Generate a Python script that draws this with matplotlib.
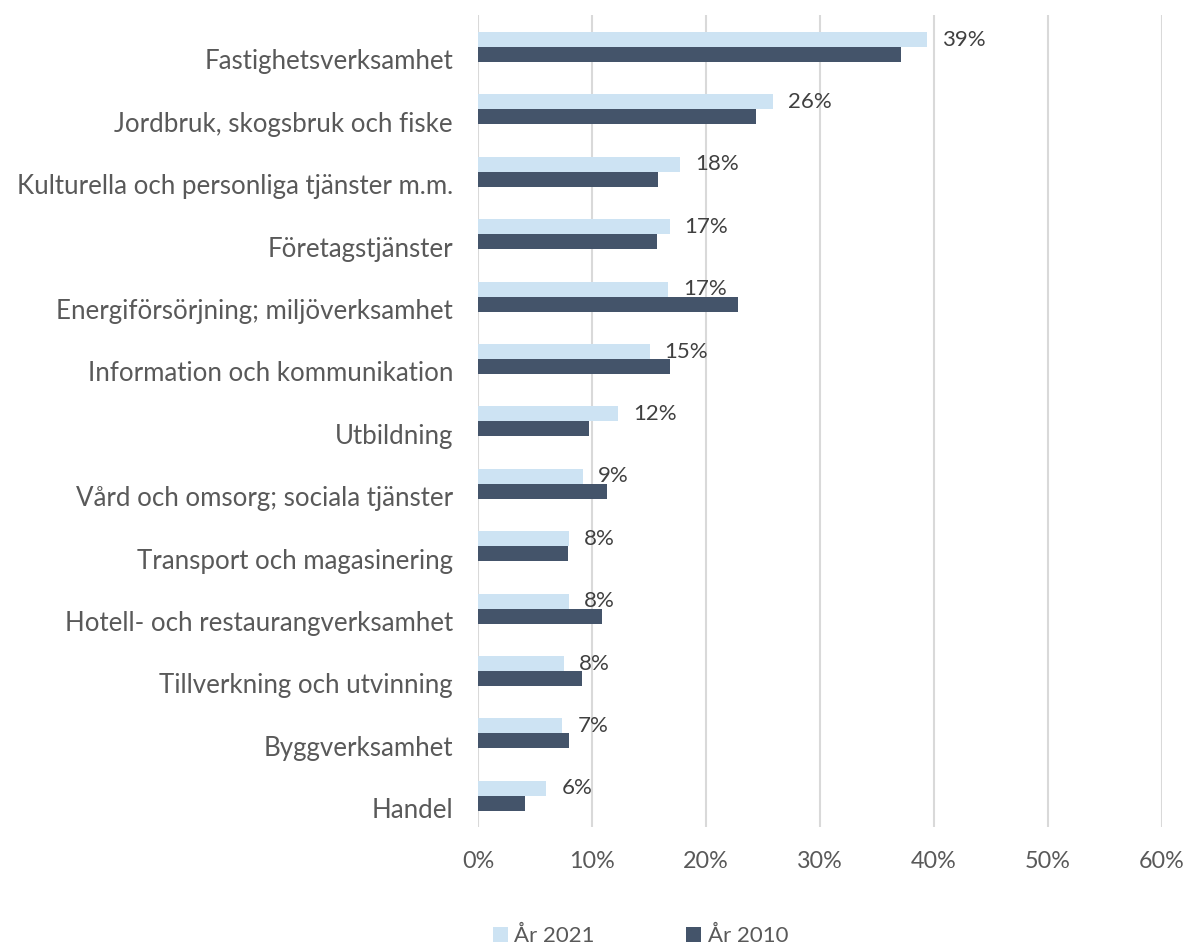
import matplotlib
matplotlib.use("Agg")
import matplotlib.pyplot as plt
import matplotlib.transforms as mtransforms
import numpy as np

categories = [
    "Fastighetsverksamhet",
    "Jordbruk, skogsbruk och fiske",
    "Kulturella och personliga tjänster m.m.",
    "Företagstjänster",
    "Energiförsörjning; miljöverksamhet",
    "Information och kommunikation",
    "Utbildning",
    "Vård och omsorg; sociala tjänster",
    "Transport och magasinering",
    "Hotell- och restaurangverksamhet",
    "Tillverkning och utvinning",
    "Byggverksamhet",
    "Handel",
]
values_2021 = [39.4, 25.9, 17.7, 16.8, 16.7, 15.05, 12.3, 9.2, 8.0, 7.95, 7.55, 7.4, 6.0]
values_2010 = [37.1, 24.4, 15.8, 15.7, 22.8, 16.8, 9.7, 11.3, 7.9, 10.85, 9.1, 8.0, 4.1]
labels_2021 = ["39%", "26%", "18%", "17%", "17%", "15%", "12%", "9%", "8%", "8%", "8%", "7%", "6%"]
xticks = [0, 10, 20, 30, 40, 50, 60]
xtick_labels = ["0%", "10%", "20%", "30%", "40%", "50%", "60%"]
series_names = ["År 2021", "År 2010"]

plt.rcParams['font.family'] = ['Lato', 'DejaVu Sans']

W, H = 1184, 947
fig = plt.figure(figsize=(W / 100, H / 100), dpi=100)
left, right = 478 / W, 1162 / W
top, bottom = 1 - 15 / H, 1 - 827 / H
ax = fig.add_axes([left, bottom, right - left, top - bottom])

light = "#CDE3F3"
dark = "#44546A"
text_col = "#595959"
h = 0.24
y = np.arange(len(categories))

b1 = ax.barh(y - h, values_2021, height=h, color=light, label=series_names[0], zorder=2)
b2 = ax.barh(y, values_2010, height=h, color=dark, label=series_names[1], zorder=2)

for yi, v, lab in zip(y, values_2021, labels_2021):
    ax.annotate(lab, xy=(v, yi - h), xytext=(15, 0), textcoords="offset pixels",
                ha="left", va="center", fontsize=16, color="#404040", zorder=3)

ax.set_xlim(0, 60)
ax.set_ylim(12.38, -0.633)
ax.set_xticks(xticks)
ax.set_xticklabels(xtick_labels)
ax.set_yticks(y)
ax.set_yticklabels(categories)
ax.grid(axis="x", color="#D9D9D9", linewidth=1.5, zorder=0)
ax.set_axisbelow(True)
for s in ax.spines.values():
    s.set_visible(False)
ax.tick_params(axis="y", length=0, pad=18, labelsize=18.6, labelcolor=text_col)
ax.tick_params(axis="x", length=0, pad=17, labelsize=16.8, labelcolor=text_col)

offset = mtransforms.ScaledTranslation(0, -5 / 100, fig.dpi_scale_trans)
for lbl in ax.get_yticklabels():
    lbl.set_transform(lbl.get_transform() + offset)

leg = fig.legend(handles=[b1, b2], labels=series_names, loc="center",
                 bbox_to_anchor=(640.5 / W, 1 - 936 / H), ncol=2, frameon=False,
                 fontsize=16, handlelength=0.68, handleheight=0.68,
                 handletextpad=0.3, columnspacing=4.1, labelcolor=text_col)

fig.savefig("out.png", dpi=100)
